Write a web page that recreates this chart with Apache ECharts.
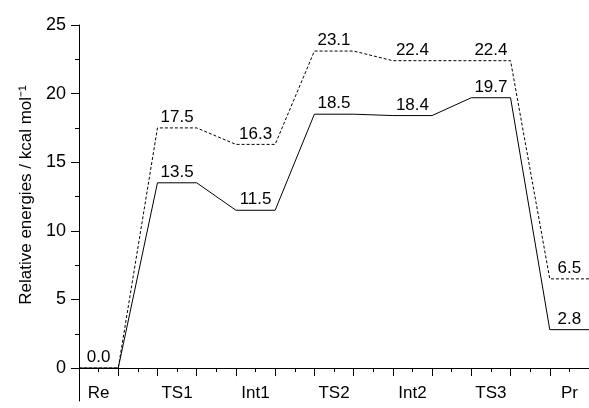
<!DOCTYPE html>
<html>
<head>
<meta charset="utf-8">
<script src="https://cdn.jsdelivr.net/npm/echarts@6/dist/echarts.min.js"></script>
<style>
  html, body { margin: 0; padding: 0; background: #fff; }
  #chart { width: 589px; height: 408px; }
</style>
</head>
<body>
<div id="chart"></div>
<script>
// energy profile data
const stages = ['Re', 'TS1', 'Int1', 'TS2', 'Int2', 'TS3', 'Pr'];
const solidEnergies = [0.0, 13.5, 11.5, 18.5, 18.4, 19.7, 2.8];
const dashedEnergies = [0.0, 17.5, 16.3, 23.1, 22.4, 22.4, 6.5];
const yTicks = [0, 5, 10, 15, 20, 25];
const yMinorTicks = [2.5, 7.5, 12.5, 17.5, 22.5];

const FONT = 'Liberation Sans, Arial, Helvetica, sans-serif';
const TXT = '#000';

// each stage is a flat level from 2i to 2i+1, joined by slanted lines
function levels(vals) {
    const out = [];
    vals.forEach((v, i) => { out.push([2 * i, v]); out.push([2 * i + 1, v]); });
    return out;
}
function labelPoints(vals, skipFirst) {
    return vals.map((v, i) => [2 * i + 0.5, v]).filter((p, i) => !(skipFirst && i === 0));
}
const stageCenters = stages.map((s, i) => 2 * i + 0.5);

const chartDom = document.getElementById('chart');
const myChart = echarts.init(chartDom);

const labelStyle = {
    show: true,
    position: 'top',
    distance: 2,
    fontFamily: FONT,
    fontSize: 17,
    color: TXT,
    opacity: 1,
    formatter: p => p.value[1].toFixed(1)
};

const option = {
    animation: false,
    grid: { left: 79, right: 0, top: 25, bottom: 7, containLabel: false },
    xAxis: [
        {
            type: 'value', min: 0, max: 13, interval: 1, position: 'bottom',
            axisLine: { show: true, lineStyle: { color: '#000', width: 1 } },
            axisTick: { show: true, length: 8, lineStyle: { color: '#000' } },
            axisLabel: {
                show: true, inside: true, margin: -1,
                customValues: stageCenters,
                fontFamily: FONT, fontSize: 17, color: TXT,
                formatter: v => stages[Math.round((v - 0.5) / 2)]
            },
            splitLine: { show: false }
        },
        {
            type: 'value', min: 0, max: 13, interval: 0.5, position: 'bottom',
            axisLine: { show: false },
            axisTick: { show: true, length: 4, lineStyle: { color: '#000' } },
            axisLabel: { show: false },
            splitLine: { show: false }
        }
    ],
    yAxis: [
        {
            type: 'value', min: -2.4, max: 25, position: 'left',
            name: 'Relative energies / kcal mol\u207B\u00B9',
            nameLocation: 'middle', nameGap: 42,
            nameTextStyle: { fontFamily: FONT, fontSize: 17, color: TXT, padding: [0, 0, 0, 36] },
            axisLine: { show: true, lineStyle: { color: '#000', width: 1 } },
            axisTick: { show: true, length: 8, customValues: yTicks, lineStyle: { color: '#000' } },
            axisLabel: { show: true, margin: 13, customValues: yTicks, fontFamily: FONT, fontSize: 18, color: TXT },
            splitLine: { show: false }
        },
        {
            type: 'value', min: -2.4, max: 25, position: 'left',
            axisLine: { show: false },
            axisTick: { show: true, length: 4, customValues: yMinorTicks, lineStyle: { color: '#000' } },
            axisLabel: { show: false },
            splitLine: { show: false }
        }
    ],
    series: [
        {
            type: 'line', data: levels(dashedEnergies), symbol: 'none',
            lineStyle: { color: '#000', width: 1, type: [3, 2] }
        },
        {
            type: 'line', data: levels(solidEnergies), symbol: 'none',
            lineStyle: { color: '#000', width: 1 }
        },
        {
            type: 'scatter', data: labelPoints(dashedEnergies, true), symbolSize: 0,
            itemStyle: { opacity: 1 }, label: labelStyle, silent: true
        },
        {
            type: 'scatter', data: labelPoints(solidEnergies, false), symbolSize: 0,
            itemStyle: { opacity: 1 }, label: labelStyle, silent: true
        }
    ]
};
option && myChart.setOption(option);
</script>
</body>
</html>
